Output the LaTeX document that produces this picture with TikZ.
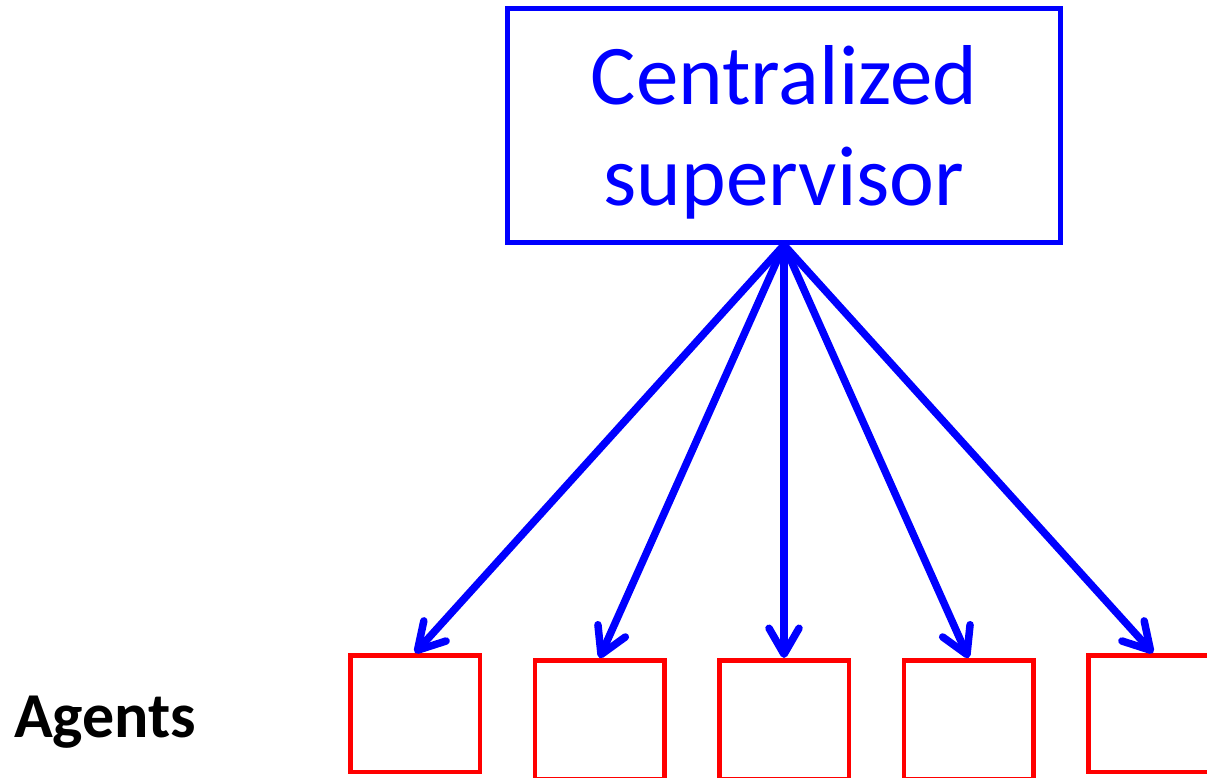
\documentclass[tikz,border=0pt]{standalone}
\usepackage{fontspec}
\setmainfont{Carlito}
\usetikzlibrary{arrows.meta}
\definecolor{supblue}{RGB}{0,0,255}
\definecolor{agentred}{RGB}{255,0,0}
\begin{document}
\begin{tikzpicture}[x=1pt,y=-1pt,
  supbox/.style={draw=supblue,line width=5pt,minimum width=553pt,minimum height=234pt,inner sep=0pt},
  suptext/.style={text=supblue,font=\fontsize{85pt}{100pt}\selectfont,anchor=base,inner sep=0pt},
  agentbox/.style={draw=agentred,line width=4.5pt,minimum width=129.5pt,minimum height=116.5pt,inner sep=0pt},
  tallagent/.style={agentbox,minimum height=118.5pt},
  cmd/.style={draw=supblue,line width=7.5pt,line cap=round,
    -{Straight Barb[length=26pt,width=30pt,round,line width=7.5pt]}}]
  \useasboundingbox (0,0) rectangle (1207,777);

  % supervisor
  \node[supbox] (sup) at (784,125.5) {};
  \node[suptext] (suptop) at (784,104) {Centralized};
  \node[suptext] (supbot) at (784,205) {supervisor};

  % agents
  \node[agentbox] (a1) at (415,713.5) {};
  \node[tallagent] (a2) at (599.5,719.5) {};
  \node[tallagent] (a3) at (784,719.5) {};
  \node[tallagent] (a4) at (968.5,719.5) {};
  \node[agentbox] (a5) at (1153,713.5) {};

  \node[font=\fontsize{64pt}{72pt}\selectfont\bfseries,anchor=base west,inner sep=0pt] (lbl) at (14,737) {Agents};

  % commands from supervisor to each agent
  \foreach \a in {a1,a2,a3,a4,a5}
    \draw[cmd] (sup.south) -- (\a.north);
\end{tikzpicture}
\end{document}
